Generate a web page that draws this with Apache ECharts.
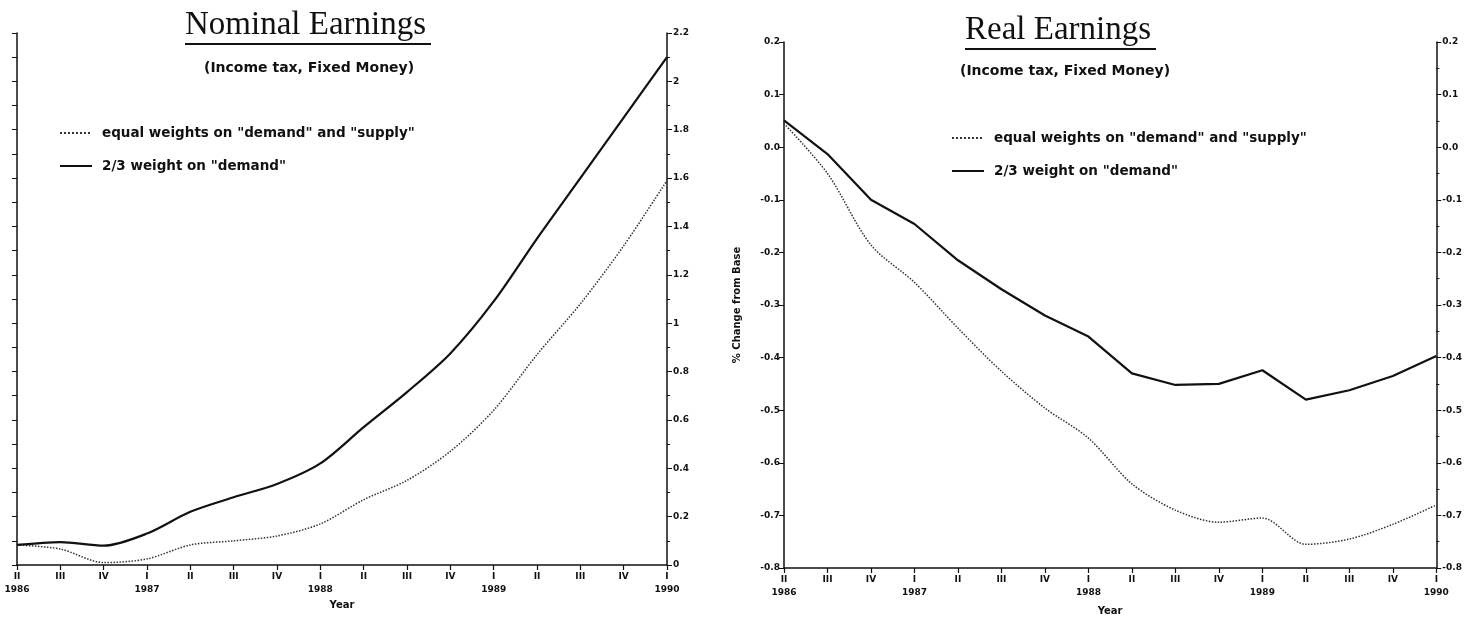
<!DOCTYPE html>
<html>
<head>
<meta charset="utf-8">
<script src="https://cdn.jsdelivr.net/npm/echarts@6/dist/echarts.min.js"></script>
<style>
  html, body { margin: 0; padding: 0; background: #fff; }
  #chart { width: 1465px; height: 623px; }
</style>
</head>
<body>
<div id="chart"></div>
<script>
// quarters from 1986 II to 1990 I
var quarters = ['II', 'III', 'IV', 'I', 'II', 'III', 'IV', 'I', 'II', 'III', 'IV', 'I', 'II', 'III', 'IV', 'I'];
var years = ['1986', '', '', '1987', '', '', '', '1988', '', '', '', '1989', '', '', '', '1990'];

// Nominal earnings, % change from base
var nominalEqual = [0.083, 0.066, 0.01, 0.025, 0.083, 0.1, 0.12, 0.17, 0.27, 0.35, 0.47, 0.64, 0.87, 1.08, 1.32, 1.59];
var nominalDemand = [0.083, 0.095, 0.08, 0.13, 0.22, 0.28, 0.335, 0.42, 0.57, 0.715, 0.875, 1.09, 1.35, 1.6, 1.85, 2.1];

// Real earnings, % change from base
var realEqual = [0.045, -0.05, -0.186, -0.257, -0.344, -0.426, -0.496, -0.553, -0.64, -0.69, -0.713, -0.705, -0.755, -0.745, -0.717, -0.68];
var realDemand = [0.051, -0.013, -0.10, -0.146, -0.215, -0.27, -0.32, -0.36, -0.43, -0.452, -0.45, -0.424, -0.48, -0.462, -0.435, -0.397];

var nameEqual = 'equal weights on "demand" and "supply"';
var nameDemand = '2/3 weight on "demand"';

var catKeys = quarters.map(function (q, i) { return q + '|' + i; });

var labelFont = { fontFamily: 'DejaVu Sans', fontWeight: 'bold', fontSize: 9, color: '#111' };
var axisLine = { show: true, onZero: false, lineStyle: { color: '#111', width: 1.5 } };

function xAxisFor(gridIndex, nameGap) {
    return {
        type: 'category',
        gridIndex: gridIndex,
        data: catKeys,
        boundaryGap: false,
        name: 'Year',
        nameLocation: 'middle',
        nameGap: nameGap,
        nameTextStyle: { fontFamily: 'DejaVu Sans', fontWeight: 'bold', fontSize: 10, color: '#111' },
        axisLine: axisLine,
        axisTick: { show: true, alignWithLabel: true, length: 5, lineStyle: { color: '#111', width: 1.2 } },
        axisLabel: Object.assign({
            interval: 0,
            margin: 5,
            lineHeight: 13,
            formatter: function (v) {
                var i = +v.split('|')[1];
                return years[i] ? quarters[i] + '\n' + years[i] : quarters[i];
            }
        }, labelFont),
        splitLine: { show: false }
    };
}

function legendAt(left, top) {
    return {
        orient: 'vertical', left: left, top: top, itemWidth: 32, itemHeight: 10, itemGap: 19,
        data: [nameEqual, nameDemand],
        itemStyle: { opacity: 0 },
        textStyle: { fontFamily: 'DejaVu Sans', fontWeight: 'bold', fontSize: 13.5, color: '#111', padding: [0, 0, 0, 5] }
    };
}

var chart = echarts.init(document.getElementById('chart'));
chart.setOption({
    backgroundColor: '#fff',
    animation: false,
    grid: [
        { left: 17, right: 798, top: 33, bottom: 58 },
        { left: 784, right: 27, top: 42, bottom: 55 }
    ],
    xAxis: [xAxisFor(0, 30), xAxisFor(1, 38)],
    yAxis: [
        {
            type: 'value', gridIndex: 0, position: 'left', min: 0, max: 2.2, interval: 0.1,
            axisLine: axisLine,
            axisTick: { show: true, length: 5, lineStyle: { color: '#111' } },
            axisLabel: { show: false },
            splitLine: { show: false }
        },
        {
            type: 'value', gridIndex: 0, position: 'right', min: 0, max: 2.2, interval: 0.2,
            axisLine: axisLine,
            axisTick: { show: true, length: 5, lineStyle: { color: '#111' } },
            minorTick: { show: true, splitNumber: 2, length: 3, lineStyle: { color: '#111' } },
            axisLabel: Object.assign({ margin: 6 }, labelFont),
            splitLine: { show: false }
        },
        {
            type: 'value', gridIndex: 1, position: 'left', min: -0.8, max: 0.2, interval: 0.1,
            name: '% Change from Base',
            nameLocation: 'middle',
            nameGap: 42,
            nameTextStyle: { fontFamily: 'DejaVu Sans', fontWeight: 'bold', fontSize: 10, color: '#111' },
            axisLine: axisLine,
            axisTick: { show: true, length: 5, lineStyle: { color: '#111' } },
            axisLabel: Object.assign({ margin: 4, formatter: function (v) { return v.toFixed(1); } }, labelFont),
            splitLine: { show: false }
        },
        {
            type: 'value', gridIndex: 1, position: 'right', min: -0.8, max: 0.2, interval: 0.1,
            axisLine: axisLine,
            axisTick: { show: true, length: 5, lineStyle: { color: '#111' } },
            minorTick: { show: true, splitNumber: 2, length: 3, lineStyle: { color: '#111' } },
            axisLabel: Object.assign({ margin: 6, formatter: function (v) { return v.toFixed(1); } }, labelFont),
            splitLine: { show: false }
        }
    ],
    legend: [legendAt(54, 121), legendAt(946, 126)],
    graphic: [
        { type: 'text', left: 185, top: 9, style: { text: 'Nominal Earnings', font: '33px "Liberation Serif"', fill: '#111' } },
        { type: 'line', shape: { x1: 185, y1: 44, x2: 431, y2: 44 }, style: { stroke: '#111', lineWidth: 2 } },
        { type: 'text', left: 204, top: 61, style: { text: '(Income tax, Fixed Money)', font: 'bold 14px "DejaVu Sans"', fill: '#111' } },
        { type: 'text', left: 965, top: 14, style: { text: 'Real Earnings', font: '33px "Liberation Serif"', fill: '#111' } },
        { type: 'line', shape: { x1: 965, y1: 49, x2: 1156, y2: 49 }, style: { stroke: '#111', lineWidth: 2 } },
        { type: 'text', left: 960, top: 64, style: { text: '(Income tax, Fixed Money)', font: 'bold 14px "DejaVu Sans"', fill: '#111' } }
    ],
    series: [
        {
            name: nameEqual, type: 'line', xAxisIndex: 0, yAxisIndex: 1, data: nominalEqual,
            symbol: 'none', smooth: 0.3, lineStyle: { color: '#333', width: 1.5, type: 'dotted' }, itemStyle: { color: '#333' }
        },
        {
            name: nameDemand, type: 'line', xAxisIndex: 0, yAxisIndex: 1, data: nominalDemand,
            symbol: 'none', smooth: 0.3, lineStyle: { color: '#111', width: 2.2 }, itemStyle: { color: '#111' }
        },
        {
            name: nameEqual, type: 'line', xAxisIndex: 1, yAxisIndex: 2, data: realEqual,
            symbol: 'none', smooth: 0.3, lineStyle: { color: '#333', width: 1.5, type: 'dotted' }, itemStyle: { color: '#333' }
        },
        {
            name: nameDemand, type: 'line', xAxisIndex: 1, yAxisIndex: 2, data: realDemand,
            symbol: 'none', lineStyle: { color: '#111', width: 2.2 }, itemStyle: { color: '#111' }
        }
    ]
});
</script>
</body>
</html>
